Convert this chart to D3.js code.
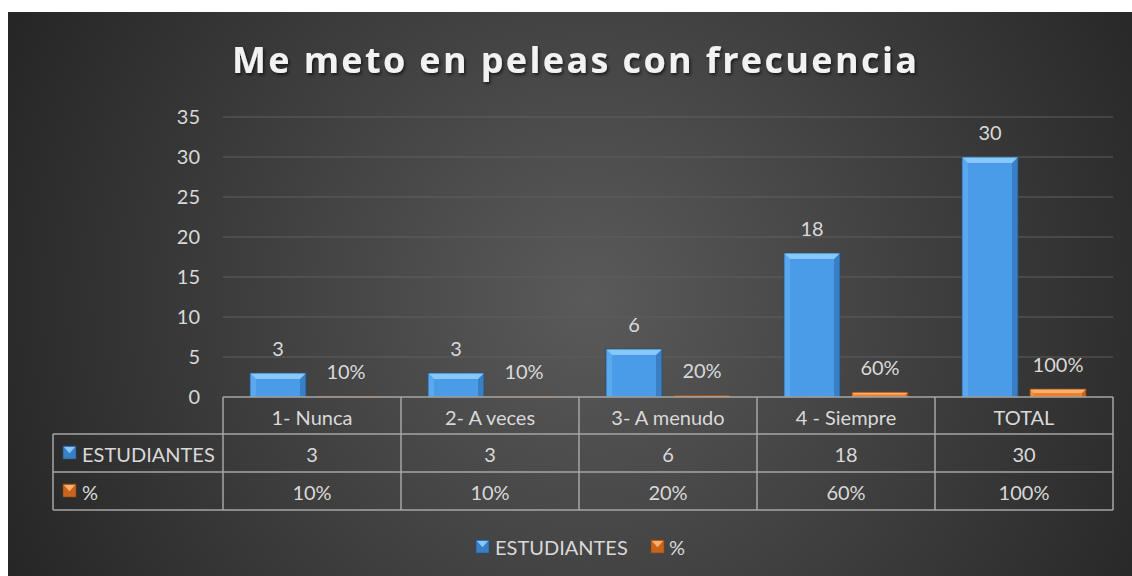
<!DOCTYPE html>
<html><head><meta charset="utf-8">
<script src="https://cdn.jsdelivr.net/npm/d3@7"></script>
<style>html,body{margin:0;padding:0;background:#fff;}svg{display:block;}</style>
</head><body>
<script>
const categories = ["1- Nunca", "2- A veces", "3- A menudo", "4 - Siempre", "TOTAL"];
const seriesNames = ["ESTUDIANTES", "%"];
const estudiantes = [3, 3, 6, 18, 30];
const porcentaje = [0.10, 0.10, 0.20, 0.60, 1.00];
const porcentajeLabels = ["10%", "10%", "20%", "60%", "100%"];
const estudiantesLabels = ["3", "3", "6", "18", "30"];
const yTicks = [0, 5, 10, 15, 20, 25, 30, 35];
const titleText = "Me meto en peleas con frecuencia";

const W = 1132, H = 576;
const FONT = "Lato, 'Open Sans', sans-serif";
const FS = 20;
const TXT = "#d9d9d9";

const svg = d3.select("body").append("svg").attr("width", W).attr("height", H);
const defs = svg.append("defs");

const rg = defs.append("radialGradient").attr("id", "bg")
  .attr("gradientUnits", "userSpaceOnUse").attr("cx", 590).attr("cy", 300).attr("r", 640);
rg.append("stop").attr("offset", "0%").attr("stop-color", "#5a5a5a");
rg.append("stop").attr("offset", "100%").attr("stop-color", "#262626");

const sh = defs.append("filter").attr("id", "tshadow").attr("x", "-5%").attr("y", "-30%").attr("width", "110%").attr("height", "160%");
sh.append("feDropShadow").attr("dx", 1.5).attr("dy", 2).attr("stdDeviation", 1.5).attr("flood-color", "#000").attr("flood-opacity", 0.6);

svg.append("rect").attr("x", 8).attr("y", 12).attr("width", W - 8).attr("height", H - 12).attr("fill", "url(#bg)");

// title
svg.append("text").attr("x", 232).attr("y", 73)
  .attr("textLength", 685).attr("lengthAdjust", "spacing")
  .attr("font-family", "'Open Sans', sans-serif").attr("font-weight", 700).attr("font-size", 36)
  .attr("fill", "#f2f2f2").attr("filter", "url(#tshadow)").text(titleText);

// scales
const x0 = d3.scaleBand().domain(categories).range([223, 1113]);
const x1 = d3.scaleBand().domain(seriesNames).range([0, x0.bandwidth()])
  .paddingInner(12 / 68).paddingOuter(54 / 136);
const y = d3.scaleLinear().domain([0, 35]).range([397, 117]);

// gridlines
svg.append("g").selectAll("line").data(yTicks.filter(d => d > 0)).join("line")
  .attr("x1", 223).attr("x2", 1113).attr("y1", d => y(d)).attr("y2", d => y(d))
  .attr("stroke", "#5e5e5e").attr("stroke-width", 1.2);

// y axis
const yAxis = d3.axisLeft(y).tickValues(yTicks).tickSize(0).tickPadding(23);
const ga = svg.append("g").attr("transform", "translate(223,0)").call(yAxis);
ga.select(".domain").remove();
ga.selectAll("text").attr("font-family", FONT).attr("font-size", FS).attr("fill", TXT);

const palettes = {
  "ESTUDIANTES": {body: "#4a9ce8", top: "#86c8f7", left: "#5aa8ee", right: "#3a7fc4", stroke: "#24527f"},
  "%": {body: "#ef7f2c", top: "#f8b070", left: "#f38e3e", right: "#c8641e", stroke: "#8a4512"}
};

function bevelBar(g, x, yTop, w, h, p) {
  const b = Math.min(6, h / 2);
  g.append("rect").attr("x", x).attr("y", yTop).attr("width", w).attr("height", h).attr("fill", p.body);
  g.append("polygon").attr("points", [[x, yTop], [x + b, yTop + b], [x + b, yTop + h], [x, yTop + h]].join(" ")).attr("fill", p.left);
  g.append("polygon").attr("points", [[x + w, yTop], [x + w - b, yTop + b], [x + w - b, yTop + h], [x + w, yTop + h]].join(" ")).attr("fill", p.right);
  g.append("polygon").attr("points", [[x, yTop], [x + w, yTop], [x + w - b, yTop + b], [x + b, yTop + b]].join(" ")).attr("fill", p.top);
  g.append("rect").attr("x", x).attr("y", yTop).attr("width", w).attr("height", h)
    .attr("fill", "none").attr("stroke", p.stroke).attr("stroke-width", 0.8);
}

const bars = svg.append("g");
categories.forEach((c, i) => {
  const vals = [estudiantes[i], porcentaje[i]];
  const labs = [estudiantesLabels[i], porcentajeLabels[i]];
  seriesNames.forEach((s, j) => {
    const bx = x0(c) + x1(s);
    const yt = y(vals[j]);
    bevelBar(bars, bx, yt, x1.bandwidth(), y(0) - yt, palettes[s]);
    bars.append("text").attr("x", bx + x1.bandwidth() / 2).attr("y", yt - 17)
      .attr("text-anchor", "middle").attr("font-family", FONT).attr("font-size", FS)
      .attr("fill", TXT).text(labs[j]);
  });
});

// data table
const tbl = svg.append("g");
const rowY = [397, 434, 472, 510];
const lineC = "#a6a6a6";
tbl.append("line").attr("x1", 223).attr("x2", 1113).attr("y1", rowY[0]).attr("y2", rowY[0]).attr("stroke", lineC).attr("stroke-width", 1.5);
[1, 2, 3].forEach(k => tbl.append("line").attr("x1", 53).attr("x2", 1113).attr("y1", rowY[k]).attr("y2", rowY[k]).attr("stroke", lineC).attr("stroke-width", 1.5));
const vx = categories.map(c => x0(c)).concat([x0(categories[categories.length - 1]) + x0.bandwidth()]);
vx.forEach(xx => tbl.append("line").attr("x1", xx).attr("x2", xx).attr("y1", rowY[0]).attr("y2", rowY[3]).attr("stroke", lineC).attr("stroke-width", 1.5));
tbl.append("line").attr("x1", 53).attr("x2", 53).attr("y1", rowY[1]).attr("y2", rowY[3]).attr("stroke", lineC).attr("stroke-width", 1.5);

function cellText(xx, yy, t, anchor) {
  tbl.append("text").attr("x", xx).attr("y", yy).attr("text-anchor", anchor || "middle")
    .attr("dominant-baseline", "central").attr("font-family", FONT).attr("font-size", FS)
    .attr("fill", TXT).text(t);
}
categories.forEach((c, i) => {
  const cx = x0(c) + x0.bandwidth() / 2;
  cellText(cx, (rowY[0] + rowY[1]) / 2 + 1, c);
  cellText(cx, (rowY[1] + rowY[2]) / 2 + 1, estudiantesLabels[i]);
  cellText(cx, (rowY[2] + rowY[3]) / 2 + 1, porcentajeLabels[i]);
});

function marker(g, mx, my, s, p) {
  g.append("rect").attr("x", mx).attr("y", my).attr("width", s).attr("height", s).attr("fill", p.right).attr("stroke", p.stroke).attr("stroke-width", 0.6);
  g.append("polygon").attr("points", [[mx + 1, my + 1], [mx + s - 1, my + 1], [mx + s / 2, my + s * 0.55]].join(" ")).attr("fill", p.top);
}
seriesNames.forEach((s, j) => {
  const cy = (rowY[j + 1] + rowY[j + 2]) / 2;
  marker(tbl, 63, cy - 7, 13, palettes[s]);
  cellText(82, cy + 1, s, "start");
});

// legend
const lg = svg.append("g");
const legendPos = [{mx: 476, tx: 495}, {mx: 651, tx: 669}];
seriesNames.forEach((s, j) => {
  marker(lg, legendPos[j].mx, 540, 13, palettes[s]);
  lg.append("text").attr("x", legendPos[j].tx).attr("y", 547).attr("dominant-baseline", "central")
    .attr("font-family", FONT).attr("font-size", FS).attr("fill", TXT).text(s);
});
</script>
</body></html>
